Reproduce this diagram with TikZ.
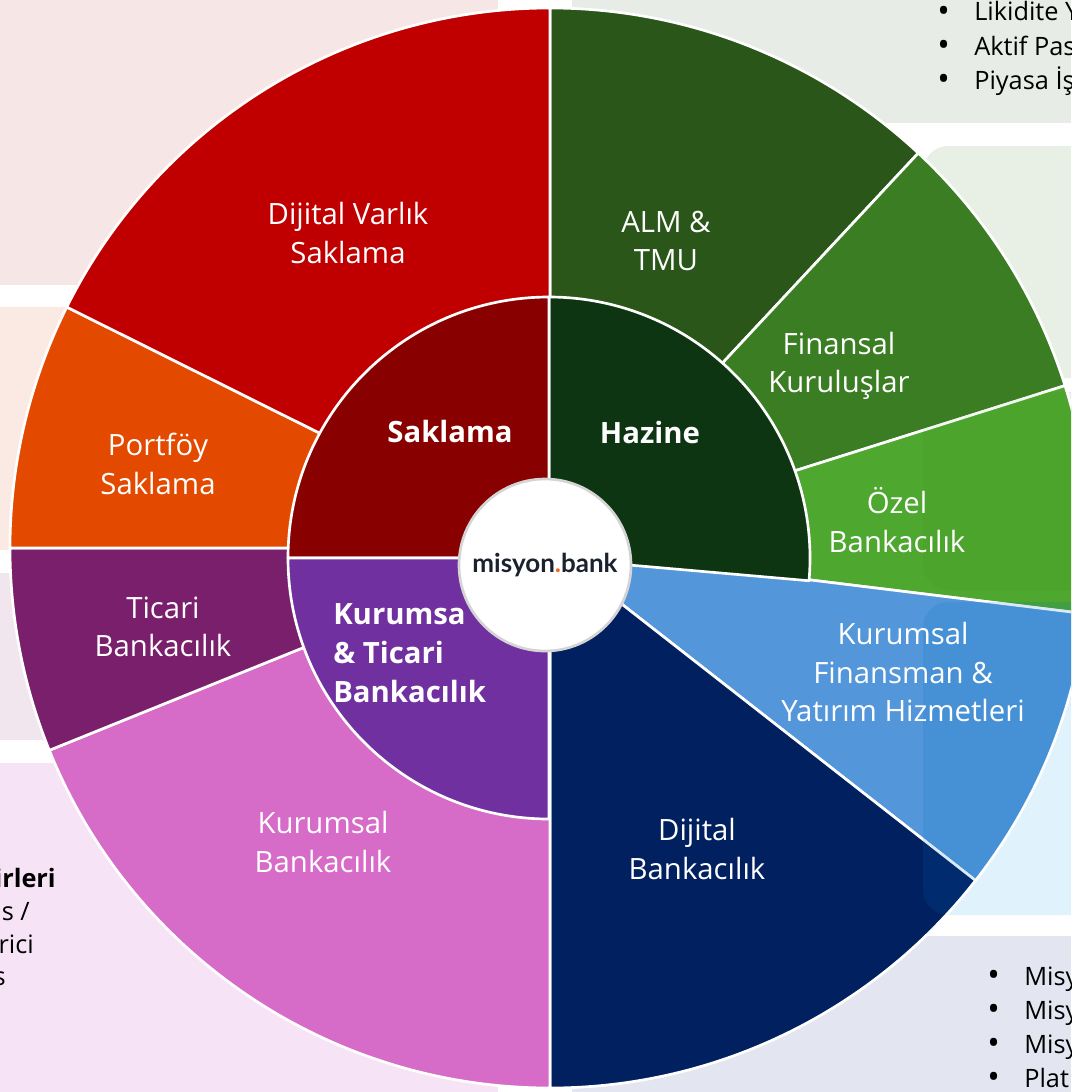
\documentclass[tikz,border=0pt]{standalone}
\usepackage{fontspec}
\setmainfont{Open Sans}
\newfontfamily\logofont{Lato}
\usepackage{xcolor}
\usepackage{tikz}
\usetikzlibrary{calc, positioning}

\definecolor{dvsred}{HTML}{C00000}
\definecolor{portorange}{HTML}{E34A00}
\definecolor{ticaripurple}{HTML}{7A1F6C}
\definecolor{kurumsalpink}{HTML}{D66CC8}
\definecolor{dijitalnavy}{HTML}{002060}
\definecolor{kfblue}{HTML}{5396DA}
\definecolor{ozelgreen}{HTML}{4EA72E}
\definecolor{fkgreen}{HTML}{3B7D23}
\definecolor{almgreen}{HTML}{2A561A}
\definecolor{saklamared}{HTML}{880000}
\definecolor{hazinegreen}{HTML}{0D3512}
\definecolor{ktpurple}{HTML}{7030A0}
\definecolor{panelrose}{HTML}{F7E6E6}
\definecolor{panelpeach}{HTML}{FBEAE4}
\definecolor{panellilac}{HTML}{F1E6EE}
\definecolor{panelpink}{HTML}{F6E4F6}
\definecolor{panelsage}{HTML}{E7ECE6}
\definecolor{panelmint}{HTML}{E8F0E5}
\definecolor{panelsky}{HTML}{E0F3FC}
\definecolor{panelmist}{HTML}{E3E6F0}
\definecolor{logoink}{HTML}{1C2130}
\definecolor{logodot}{HTML}{F26522}
\definecolor{logoring}{HTML}{D4D4D4}
\definecolor{tintblue}{HTML}{0070C0}

\tikzset{
    slicenode/.style = {draw=white, line width=2pt, line join=round},
    panelnode/.style = {draw=none, rounded corners=19pt},
    labelnode/.style = {draw=none, fill=none, rectangle, text=white, align=center, inner sep=0em, 
      node distance=0em, font=\fontsize{22}{29}\selectfont},
    corenode/.style = {labelnode, font=\fontsize{22}{29}\selectfont\bfseries},
    bulletnode/.style = {draw=none, fill=none, rectangle, text=black, inner sep=0em, node distance=0em, 
      anchor=base west, font=\fontsize{19}{25}\selectfont},
    fragnode/.style = {bulletnode, anchor=base east},
    logonode/.style = {circle, draw=logoring, fill=white, line width=2pt, minimum size=129pt, inner sep=0em, 
      font=\logofont\fontsize{19.5}{22}\selectfont\bfseries, text=logoink}
}
\newcommand{\bul}{\makebox[27.75pt][l]{{\fontsize{25}{25}\selectfont\raisebox{-1pt}{•}}}}

\begin{document}
\begin{tikzpicture}[x=0.75pt, y=0.75pt]
\useasboundingbox (0,0) rectangle (1071,-1092);
\clip (0,0) rectangle (1071,-1092);
\fill[white] (0,0) rectangle (1071,-1092);

\fill[panelrose] (0,0) rectangle (498,-285);
\fill[panelpeach] (0,-307) rectangle (498,-550);
\fill[panellilac] (0,-573) rectangle (498,-740);
\fill[panelpink] (0,-763) rectangle (498,-1092);
\fill[panelsage] (572,0) rectangle (1071,-123);
\fill[panelnode, panelmint] (923,-146) rectangle (1110,-378);
\fill[panelnode, panelmint] (923,-392) rectangle (1110,-590);
\fill[panelnode, panelsky] (923,-602) rectangle (1110,-915);
\fill[panelmist] (572,-936) rectangle (1071,-1092);

\coordinate (pie) at (550,-548);
\coordinate (core) at (549,-558);

\draw[slicenode, fill=almgreen] (pie) -- ++(90:405pt) arc[start angle=90, end angle=47, radius=405pt] -- cycle;
\draw[slicenode, fill=fkgreen] (pie) -- ++(47:405pt) arc[start angle=47, end angle=17.5, radius=405pt] -- cycle;
\draw[slicenode, fill=ozelgreen] (pie) -- ++(17.5:405pt) arc[start angle=17.5, end angle=-7, radius=405pt] -- cycle;
\draw[slicenode, fill=kfblue] (pie) -- ++(-7:405pt) arc[start angle=-7, end angle=-38, radius=405pt] -- cycle;
\draw[slicenode, fill=dijitalnavy] (pie) -- ++(-38:405pt) arc[start angle=-38, end angle=-90, radius=405pt] -- cycle;
\draw[slicenode, fill=kurumsalpink] (pie) -- ++(270:405pt) arc[start angle=270, end angle=202, radius=405pt] -- cycle;
\draw[slicenode, fill=ticaripurple] (pie) -- ++(202:405pt) arc[start angle=202, end angle=180, radius=405pt] -- cycle;
\draw[slicenode, fill=portorange] (pie) -- ++(180:405pt) arc[start angle=180, end angle=153.5, radius=405pt] -- cycle;
\draw[slicenode, fill=dvsred] (pie) -- ++(153.5:405pt) arc[start angle=153.5, end angle=90, radius=405pt] -- cycle;

\draw[slicenode, fill=hazinegreen] (core) -- ++(-5:195.75pt) arc[start angle=-5, end angle=90, radius=195.75pt] -- cycle;
\draw[slicenode, fill=saklamared] (core) -- ++(90:195.75pt) arc[start angle=90, end angle=180, radius=195.75pt] -- cycle;
\draw[slicenode, fill=ktpurple] (core) -- ++(180:195.75pt) arc[start angle=180, end angle=270, radius=195.75pt] -- cycle;

\begin{scope}
\clip (pie) circle[radius=404pt];
\fill[panelnode, tintblue, opacity=0.15] (923,-602) rectangle (1110,-915);
\fill[panelnode, fkgreen, opacity=0.06] (923,-392) rectangle (1110,-590);
\end{scope}

\node[logonode, name=logo] at (545,-565) {misyon{\color{logodot}.}bank};

\node[labelnode, name=dvs] at (348,-233) {Dijital Varlık\\Saklama};
\node[labelnode, name=alm] at (666,-241) {ALM \&\\TMU};
\node[labelnode, name=fk] at (839,-366) {Finansal\\Kuruluşlar};
\node[labelnode, name=ozel] at (897,-520) {Özel\\Bankacılık};
\node[labelnode, name=kf] at (903,-672) {Kurumsal\\Finansman \&\\Yatırım Hizmetleri};
\node[labelnode, name=dijital] at (697,-849) {Dijital\\Bankacılık};
\node[labelnode, name=kurumsal] at (323,-842) {Kurumsal\\Bankacılık};
\node[labelnode, name=ticari] at (163,-627) {Ticari\\Bankacılık};
\node[labelnode, name=portfoy] at (158,-464) {Portföy\\Saklama};

\node[corenode, name=saklama] at (450,-431) {Saklama};
\node[corenode, name=hazine] at (650,-432) {Hazine};
\node[corenode, name=kt, align=left, anchor=west] at (333,-653) {Kurumsa\\\& Ticari\\Bankacılık};

\node[bulletnode, name=likidite] at (937,-21) {\bul Likidite Y};
\node[bulletnode, name=aktif] at ([yshift=-25.5pt]likidite.base west) {\bul Aktif Pas};
\node[bulletnode, name=piyasa] at ([yshift=-25.5pt]aktif.base west) {\bul Piyasa İş};

\node[bulletnode, name=misyA] at (987,-985) {\bul Misy};
\node[bulletnode, name=misyB] at ([yshift=-25.5pt]misyA.base west) {\bul Misy};
\node[bulletnode, name=misyC] at ([yshift=-25.5pt]misyB.base west) {\bul Misy};
\node[bulletnode, name=plat] at ([yshift=-25.5pt]misyC.base west) {\bul Plat};

\node[fragnode, name=birimler, font=\fontsize{19}{25}\selectfont\bfseries] at (56,-887) {irleri};
\node[fragnode, name=slash] at (30,-920) {ns /};
\node[fragnode, name=rici] at (34,-953) {rici};
\node[fragnode, name=sfrag] at (6,-985) {s};
\end{tikzpicture}
\end{document}
